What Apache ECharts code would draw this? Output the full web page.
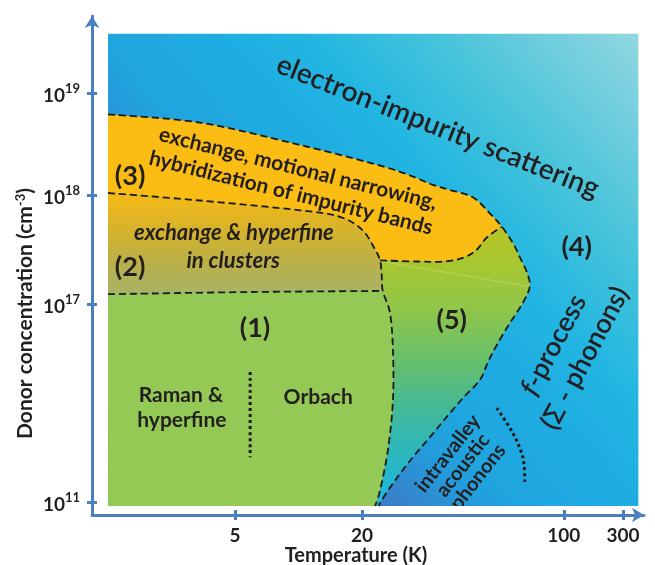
<!DOCTYPE html>
<html>
<head>
<meta charset="utf-8">
<script src="https://cdn.jsdelivr.net/npm/echarts@6/dist/echarts.min.js"></script>
<style>
  html, body { margin: 0; padding: 0; background: #ffffff; }
  #chart { width: 655px; height: 565px; }
</style>
</head>
<body>
<div id="chart"></div>
<script>
// ---- Axis ticks ----
const tempTicks = [5, 20, 100, 300];          // K
const concTicks = [11, 17, 18, 19];           // log10 of donor concentration (cm^-3)

// ---- Extent of the shaded diagram: [T min, T max], [log10 N min, log10 N max] ----
const plotTemp = [1.25, 400];
const plotConc = [10.88, 19.58];

// ---- Regime boundaries, points as [T (K), log10 N] ----
// upper edge of (3), continuing down the edge of (5) towards (4)
const outerBoundary = [
  [1.25, 18.79], [3.4, 18.71], [10.2, 18.49], [25, 18.26], [35.2, 18.10], [40.3, 18.05],
  [48.4, 17.98], [55.5, 17.83], [61, 17.71], [66.6, 17.56], [70.4, 17.43], [74.5, 17.29],
  [76.2, 17.16], [72.1, 17.01], [65, 16.42], [58.6, 15.76], [54.6, 15.24], [51.2, 14.70],
  [44.7, 14.15], [39.3, 13.58], [34.4, 12.97], [30, 12.36], [26.4, 11.73], [23.4, 11.06],
  [22.9, 10.88]
];
// lower edge of (3) above (5)
const yellowBottom = [
  [23.1, 17.40], [31.0, 17.39], [38.7, 17.39], [45.4, 17.43], [50.0, 17.50], [54.1, 17.61], [61, 17.71]
];
// (3)/(2) edge, continuing as the (1)/(5) edge
const innerBoundary = [
  [1.25, 18.02], [3.4, 17.95], [10.2, 17.86], [15.7, 17.80], [20.05, 17.68], [22.2, 17.50],
  [23.1, 17.40], [23.4, 17.27], [23.6, 17.12], [25.0, 16.73], [25.6, 15.61], [25.6, 14.09],
  [24.6, 12.58], [23.1, 11.36], [22.2, 10.88]
];
// (2)/(1) edge
const lowBoundary = [[1.25, 17.09], [5.9, 17.11], [23.6, 17.12]];
// faint seam inside (5)
const seamLine = [[23.4, 17.39], [76.2, 17.16]];
// dotted dividers
const ramanOrbachDivider = [[5.9, 14.94], [5.9, 12.36]];
const intravalleyDivider = [[58.6, 13.85], [66.6, 13.09], [72.1, 12.36], [73.3, 11.61]];

// ---- Annotations ----
const labelText = [
  'electron-impurity scattering',
  'exchange, motional narrowing,',
  'hybridization of impurity bands',
  'exchange & hyperfine',
  'in clusters',
  '(1)', '(2)', '(3)', '(4)', '(5)',
  'Raman &', 'hyperfine', 'Orbach',
  '{it|f}-process',
  '(Σ - phonons)',
  'intravalley\nacoustic\nphonons'
];
const labelTemp = [36.6, 9.95, 9.21, 4.94, 4.9, 6.22, 1.59, 1.59, 127, 40.9, 2.77, 2.8, 12.4, 92.2, 148, 44.7];
const labelConc = [18.67, 18.26, 18.02, 17.65, 17.40, 16.27, 17.34, 18.18, 17.52, 16.51, 14.24, 13.48, 14.18, 15.76, 15.36, 12.12];

// ---- Presentation ----
const FONT = 'Lato, "Open Sans", sans-serif';
const INK = '#231f20';
const AXIS_BLUE = '#4a7fc2';
const labelLook = [
  { size: 28, weight: 600, rot: -21.6 },
  { size: 21, weight: 'bold', rot: -14 },
  { size: 21, weight: 'bold', rot: -14 },
  { size: 22, weight: 'bold', italic: true, rot: 0 },
  { size: 22, weight: 'bold', italic: true, rot: 0 },
  { size: 27, weight: 'bold', rot: 0 },
  { size: 27, weight: 'bold', rot: 0 },
  { size: 27, weight: 'bold', rot: 0 },
  { size: 27, weight: 'bold', rot: 0 },
  { size: 27, weight: 'bold', rot: 0 },
  { size: 21, weight: 'bold', rot: 0 },
  { size: 21, weight: 'bold', rot: 0 },
  { size: 21, weight: 'bold', rot: 0 },
  { size: 27, weight: 600, rot: 62 },
  { size: 27, weight: 600, rot: 62 },
  { size: 20, weight: 'bold', rot: 52, lineHeight: 19, clip: true }
];

// Schematic (non-uniform) axis spacing: display position of each tick
const axisScale = {
  x: { ticks: tempTicks.map(Math.log10), pos: [0.699, 1.301, 2.258, 2.538] },
  y: { ticks: concTicks, pos: [15.122, 17.0, 18.033, 19.0] }
};

function piecewise(scale, v) {
  const t = scale.ticks, p = scale.pos;
  let i = 0;
  while (i < t.length - 2 && v > t[i + 1]) i++;
  return p[i] + (v - t[i]) * (p[i + 1] - p[i]) / (t[i + 1] - t[i]);
}
const toU = T => piecewise(axisScale.x, Math.log10(T));
const toV = e => piecewise(axisScale.y, e);

function toPx(api, p) { return api.coord([toU(p[0]), toV(p[1])]); }

// Catmull-Rom spline through pixel points, as cubic Bezier segments
function bezierSegs(px) {
  const n = px.length, segs = [];
  for (let i = 0; i < n - 1; i++) {
    const p0 = px[Math.max(i - 1, 0)], p1 = px[i], p2 = px[i + 1], p3 = px[Math.min(i + 2, n - 1)];
    segs.push({
      p1: p1, p2: p2,
      c1: [p1[0] + (p2[0] - p0[0]) / 6, p1[1] + (p2[1] - p0[1]) / 6],
      c2: [p2[0] - (p3[0] - p1[0]) / 6, p2[1] - (p3[1] - p1[1]) / 6]
    });
  }
  return segs;
}
const f = p => p[0].toFixed(2) + ' ' + p[1].toFixed(2);
function trace(segs, from, to, d) {
  if (from < to) {
    for (let i = from; i < to; i++) { const s = segs[i]; d.push('C ' + f(s.c1) + ' ' + f(s.c2) + ' ' + f(s.p2)); }
  } else {
    for (let i = from - 1; i >= to; i--) { const s = segs[i]; d.push('C ' + f(s.c2) + ' ' + f(s.c1) + ' ' + f(s.p1)); }
  }
}

const regionNames = ['background', 'region3', 'region2', 'region1', 'region5'];

function geometry(api) {
  const O = outerBoundary.map(p => toPx(api, p));
  const Y = yellowBottom.map(p => toPx(api, p));
  const M = innerBoundary.map(p => toPx(api, p));
  const L = lowBoundary.map(p => toPx(api, p));
  return {
    O: O, Y: Y, M: M, L: L,
    sO: bezierSegs(O), sY: bezierSegs(Y), sM: bezierSegs(M), sL: bezierSegs(L),
    tl: toPx(api, [plotTemp[0], plotConc[1]]), tr: toPx(api, [plotTemp[1], plotConc[1]]),
    br: toPx(api, [plotTemp[1], plotConc[0]]), bl: toPx(api, [plotTemp[0], plotConc[0]])
  };
}

const grad = (x, y, x2, y2, stops, global) => new echarts.graphic.LinearGradient(x, y, x2, y2,
  stops.map(s => ({ offset: s[0], color: s[1] })), !!global);

function renderRegion(params, api) {
  const g = geometry(api);
  const name = regionNames[params.dataIndex];
  const d = [];
  let fill;
  const J1o = 8, J2m = 6, J3m = 8;
  if (name === 'background') {
    d.push('M ' + f(g.tl), 'L ' + f(g.tr), 'L ' + f(g.br), 'L ' + f(g.bl), 'Z');
    // diagonal shading from the lower-left corner to the upper-right corner
    fill = grad(g.bl[0], g.bl[1], g.tr[0], g.tr[1], [[0, '#4a60b0'], [0.3, '#3a7fc9'], [0.38, '#2599da'],
      [0.43, '#20a5de'], [0.55, '#1eace1'], [0.65, '#22b6e2'], [0.78, '#45c3da'], [1, '#92d7e0']], true);
  } else if (name === 'region3') {
    d.push('M ' + f(g.O[0]));
    trace(g.sO, 0, J1o, d);
    trace(g.sY, g.Y.length - 1, 0, d);
    trace(g.sM, J2m, 0, d);
    d.push('Z');
    fill = '#fbbd13';
  } else if (name === 'region2') {
    d.push('M ' + f(g.M[0]));
    trace(g.sM, 0, J3m, d);
    trace(g.sL, g.L.length - 1, 0, d);
    d.push('Z');
    fill = grad(0, 0, 0, 1, [[0, '#f6ba14'], [0.4, '#d2b22e'], [0.7, '#bab04a'], [1, '#a6b466']]);
  } else if (name === 'region1') {
    d.push('M ' + f(g.L[0]));
    trace(g.sL, 0, g.L.length - 1, d);
    trace(g.sM, J3m, g.M.length - 1, d);
    d.push('L ' + f(g.bl), 'Z');
    fill = '#93c954';
  } else {
    d.push('M ' + f(g.Y[0]));
    trace(g.sY, 0, g.Y.length - 1, d);
    trace(g.sO, J1o, g.O.length - 1, d);
    d.push('L ' + f(g.M[g.M.length - 1]));
    trace(g.sM, g.M.length - 1, J2m, d);
    d.push('Z');
    fill = grad(0, 0, 0, 1, [[0, '#b8c426'], [0.12, '#aac62e'], [0.3, '#8fc64a'], [0.5, '#62be70'],
      [0.7, '#3ab8a4'], [0.88, '#25b7cc'], [1, '#1eb4de']]);
  }
  return { type: 'path', shape: { pathData: d.join(' ') }, style: { fill: fill, stroke: null } };
}

const lineNames = ['seam', 'outer', 'yellow', 'inner', 'low', 'ramanOrbach', 'intravalley'];
const lineData = {
  seam: seamLine, outer: outerBoundary, yellow: yellowBottom, inner: innerBoundary,
  low: lowBoundary, ramanOrbach: ramanOrbachDivider, intravalley: intravalleyDivider
};
function renderLine(params, api) {
  const name = lineNames[params.dataIndex];
  const px = lineData[name].map(p => toPx(api, p));
  const segs = bezierSegs(px);
  const d = ['M ' + f(px[0])];
  trace(segs, 0, px.length - 1, d);
  let style;
  if (name === 'seam') {
    style = { fill: null, stroke: 'rgba(240,245,200,0.3)', lineWidth: 1 };
  } else if (name === 'ramanOrbach' || name === 'intravalley') {
    style = { fill: null, stroke: '#1a1a1a', lineWidth: 3, lineDash: [3, 3] };
  } else {
    style = { fill: null, stroke: '#1a1a1a', lineWidth: 1.8, lineDash: [7, 4] };
  }
  return { type: 'path', shape: { pathData: d.join(' ') }, style: style };
}

function renderLabel(params, api) {
  const i = params.dataIndex;
  const look = labelLook[i];
  const pt = api.coord([api.value(0), api.value(1)]);
  const text = {
    type: 'text',
    x: pt[0], y: pt[1],
    rotation: look.rot * Math.PI / 180,
    style: {
      text: labelText[i],
      fill: INK,
      fontFamily: FONT,
      fontSize: look.size,
      fontWeight: look.weight,
      fontStyle: look.italic ? 'italic' : 'normal',
      align: 'center',
      verticalAlign: 'middle',
      lineHeight: look.lineHeight || Math.round(look.size * 1.2),
      rich: { it: { fontStyle: 'italic', fontFamily: FONT, fontSize: look.size, fontWeight: look.weight, fill: INK } }
    }
  };
  if (!look.clip) return text;
  // keep the text inside the shaded diagram
  const a = toPx(api, [plotTemp[0], plotConc[1]]), b = toPx(api, [plotTemp[1], plotConc[0]]);
  return {
    type: 'group',
    clipPath: { type: 'rect', shape: { x: a[0], y: a[1], width: b[0] - a[0], height: b[1] - a[1] } },
    children: [text]
  };
}

const uMin = 0.021, uMax = 2.638, vMin = 15.0, vMax = 19.73;
const xTickPos = tempTicks.map(toU);
const yTickPos = concTicks.map(toV);
const nearest = (arr, v) => arr.reduce((bi, x, i) => Math.abs(x - v) < Math.abs(arr[bi] - v) ? i : bi, 0);

const option = {
  animation: false,
  backgroundColor: '#ffffff',
  grid: { left: 92, right: 11, top: 16, bottom: 50, containLabel: false, outerBoundsMode: 'none' },
  xAxis: [{
    type: 'value', position: 'bottom', min: uMin, max: uMax,
    name: 'Temperature (K)', nameLocation: 'middle', nameGap: 31, nameMoveOverlap: false,
    nameTextStyle: { fontFamily: FONT, color: INK, fontWeight: 'bold', fontSize: 20, padding: [0, 24, 0, 0] },
    splitLine: { show: false },
    axisLine: { show: true, lineStyle: { color: AXIS_BLUE, width: 3 }, symbol: ['none', 'arrow'], symbolSize: [11, 12] },
    axisTick: { show: true, customValues: xTickPos, length: 5, lineStyle: { color: AXIS_BLUE, width: 3 } },
    axisLabel: {
      show: true, customValues: xTickPos, margin: 11,
      fontFamily: FONT, fontSize: 19, fontWeight: 'bold', color: INK,
      formatter: v => String(tempTicks[nearest(xTickPos, v)])
    }
  }, {
    type: 'value', position: 'bottom', min: uMin, max: uMax,
    splitLine: { show: false }, axisLine: { show: false }, axisLabel: { show: false },
    axisTick: { show: true, inside: true, customValues: xTickPos, length: 5, lineStyle: { color: AXIS_BLUE, width: 3 } }
  }],
  yAxis: [{
    type: 'value', position: 'left', min: vMin, max: vMax,
    name: '{n|Donor concentration (cm}{s|-3}{n|)}', nameLocation: 'middle', nameGap: 56, nameRotate: 90,
    nameMoveOverlap: false,
    nameTextStyle: {
      fontFamily: FONT, color: INK, fontWeight: 'bold', fontSize: 21, padding: [0, 96, 0, 0],
      rich: {
        n: { fontFamily: FONT, color: INK, fontWeight: 'bold', fontSize: 21 },
        s: { fontFamily: FONT, color: INK, fontWeight: 'bold', fontSize: 13, padding: [0, 0, 9, 0] }
      }
    },
    splitLine: { show: false },
    axisLine: { show: true, lineStyle: { color: AXIS_BLUE, width: 3 }, symbol: ['none', 'arrow'], symbolSize: [11, 12] },
    axisTick: { show: true, customValues: yTickPos, length: 5, lineStyle: { color: AXIS_BLUE, width: 3 } },
    axisLabel: {
      show: true, customValues: yTickPos, margin: 12,
      formatter: v => '{a|10}{b|' + concTicks[nearest(yTickPos, v)] + '}',
      rich: {
        a: { fontFamily: FONT, color: INK, fontWeight: 'bold', fontSize: 19, padding: [6, 0, 0, 0] },
        b: { fontFamily: FONT, color: INK, fontWeight: 'bold', fontSize: 13, padding: [0, 0, 8, 0] }
      }
    }
  }, {
    type: 'value', position: 'left', min: vMin, max: vMax,
    splitLine: { show: false }, axisLine: { show: false }, axisLabel: { show: false },
    axisTick: { show: true, inside: true, customValues: yTickPos, length: 5, lineStyle: { color: AXIS_BLUE, width: 3 } }
  }],
  series: [{
    type: 'custom', name: 'regions', silent: true, xAxisIndex: 0, yAxisIndex: 0,
    data: regionNames.map((n, i) => [i]), renderItem: renderRegion, z: 1
  }, {
    type: 'custom', name: 'boundaries', silent: true, xAxisIndex: 0, yAxisIndex: 0,
    data: lineNames.map((n, i) => [i]), renderItem: renderLine, z: 2
  }, {
    type: 'custom', name: 'labels', silent: true, xAxisIndex: 0, yAxisIndex: 0,
    data: labelTemp.map((t, i) => [toU(t), toV(labelConc[i])]), renderItem: renderLabel, z: 3
  }]
};

const chart = echarts.init(document.getElementById('chart'));
chart.setOption(option);
</script>
</body>
</html>
